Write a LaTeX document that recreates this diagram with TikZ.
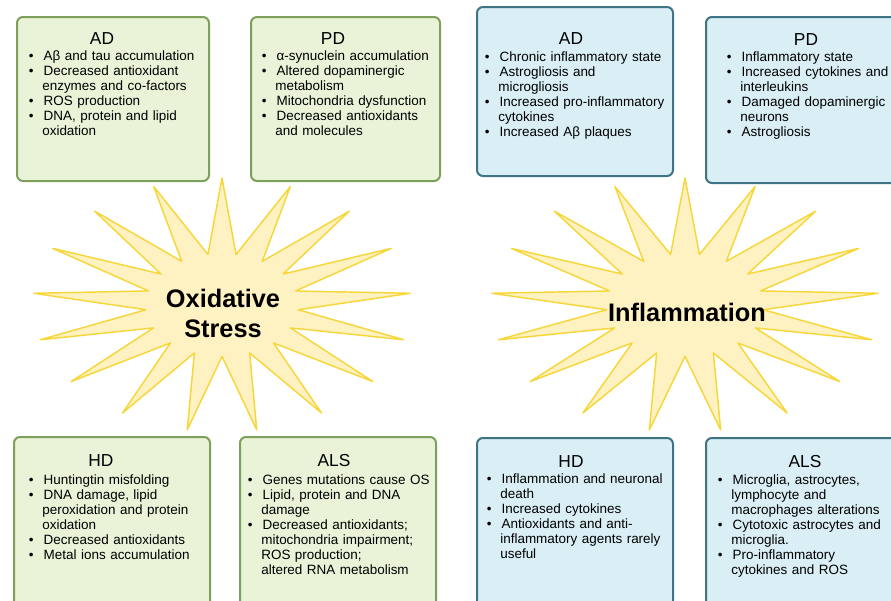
\documentclass[tikz,border=0pt]{standalone}
\usepackage{fontspec}
\setmainfont{Liberation Sans}
\usepackage{tikz}
\usepackage{xcolor}

\definecolor{osfill}{HTML}{E8F3D8}
\definecolor{osline}{HTML}{7FA05A}
\definecolor{inffill}{HTML}{D9EEF5}
\definecolor{infline}{HTML}{3F7485}
\definecolor{burstfill}{HTML}{FFF2C2}
\definecolor{burstline}{HTML}{F7D63A}

\newenvironment{pts}{\begin{list}{\textbullet}{%
  \setlength{\leftmargin}{10pt}\setlength{\labelsep}{7.5pt}%
  \setlength{\labelwidth}{2.5pt}\setlength{\itemsep}{0pt}%
  \setlength{\parsep}{0pt}\setlength{\topsep}{0pt}%
  \setlength{\partopsep}{0pt}\setlength{\itemindent}{0pt}}}%
  {\end{list}}

\tikzset{
  osbox/.style={draw=osline, fill=osfill, line width=1.5pt, rounded corners=4.5pt},
  infbox/.style={draw=infline, fill=inffill, line width=1.5pt, rounded corners=4.5pt},
  burst/.style={draw=burstline, fill=burstfill, line width=1.1pt, line join=round},
  boxtitle/.style={inner sep=0pt, font=\fontsize{13}{15}\selectfont},
  itemtext/.style={anchor=north west, inner sep=0pt, text width=145pt, align=left,
    font=\fontsize{10.1}{11.25}\selectfont},
  burstlabel/.style={inner sep=0pt, align=center, font=\fontsize{19}{22.5}\selectfont\bfseries}
}

\begin{document}
\begin{tikzpicture}[x=0.75pt,y=0.75pt,yscale=-1,xscale=1]
    \useasboundingbox (0,0) rectangle (891,600);
    \clip (0,0) rectangle (891,600);

    %Bursts
    \foreach \cx/\rx in {222/189,685/194}{
      \draw[burst, shift={(\cx,305)}] (270:{\rx} and 127)
        \foreach \k in {1,...,33}{ -- ({270+\k*180/17}:{\rx*(1-0.595*mod(\k,2))} and {127*(1-0.595*mod(\k,2))}) } -- cycle;
    }
    % Text Node
    \draw (223,313) node [burstlabel] (oxlabel) {Oxidative\\Stress};
    % Text Node
    \draw (687,312) node [burstlabel] (inflabel) {Inflammation};

    %Rounded Rect: oxidative stress boxes
    \draw[osbox] (17,17) rectangle (209,181);
    \draw[osbox] (251,17) rectangle (440,181);
    \draw[osbox] (14,437) rectangle (210,620);
    \draw[osbox] (240,437) rectangle (436,620);
    %Rounded Rect: inflammation boxes
    \draw[infbox] (477,7) rectangle (673,176);
    \draw[infbox] (706,17) rectangle (910,183);
    \draw[infbox] (477,438) rectangle (673,620);
    \draw[infbox] (706,438) rectangle (910,620);

    % Text Node
    \draw (102,39) node [boxtitle] (osadtitle) {AD};
    % Text Node
    \draw (28.7,45) node [itemtext] (osaditems) {\begin{pts}
      \item Aβ and tau accumulation
      \item Decreased antioxidant\newline enzymes and co-factors
      \item ROS production
      \item DNA, protein and lipid\newline oxidation
    \end{pts}};

    % Text Node
    \draw (333,39) node [boxtitle] (ospdtitle) {PD};
    % Text Node
    \draw (261.7,45) node [itemtext] (ospditems) {\begin{pts}
      \item α-synuclein accumulation
      \item Altered dopaminergic\newline metabolism
      \item Mitochondria dysfunction
      \item Decreased antioxidants\newline and molecules
    \end{pts}};

    % Text Node
    \draw (101,461) node [boxtitle] (oshdtitle) {HD};
    % Text Node
    \draw (28.7,469) node [itemtext] (oshditems) {\begin{pts}
      \item Huntingtin misfolding
      \item DNA damage, lipid\newline peroxidation and protein\newline oxidation
      \item Decreased antioxidants
      \item Metal ions accumulation
    \end{pts}};

    % Text Node
    \draw (334,461) node [boxtitle] (osalstitle) {ALS};
    % Text Node
    \draw (247.7,469) node [itemtext] (osalsitems) {\begin{pts}
      \item Genes mutations cause OS
      \item Lipid, protein and DNA\newline damage
      \item Decreased antioxidants;\newline mitochondria impairment;\newline ROS production;\newline altered RNA metabolism
    \end{pts}};

    % Text Node
    \draw (571,39) node [boxtitle] (infadtitle) {AD};
    % Text Node
    \draw (484.7,46) node [itemtext] (infaditems) {\begin{pts}
      \item Chronic inflammatory state
      \item Astrogliosis and\newline microgliosis
      \item Increased pro-inflammatory\newline cytokines
      \item Increased Aβ plaques
    \end{pts}};

    % Text Node
    \draw (806,40) node [boxtitle] (infpdtitle) {PD};
    % Text Node
    \draw (726.7,46) node [itemtext] (infpditems) {\begin{pts}
      \item Inflammatory state
      \item Increased cytokines and\newline interleukins
      \item Damaged dopaminergic\newline neurons
      \item Astrogliosis
    \end{pts}};

    % Text Node
    \draw (571,462) node [boxtitle] (infhdtitle) {HD};
    % Text Node
    \draw (486.7,468) node [itemtext] (infhditems) {\begin{pts}
      \item Inflammation and neuronal\newline death
      \item Increased cytokines
      \item Antioxidants and anti-\newline inflammatory agents rarely\newline useful
    \end{pts}};

    % Text Node
    \draw (805,462) node [boxtitle] (infalstitle) {ALS};
    % Text Node
    \draw (717.7,469) node [itemtext] (infalsitems) {\begin{pts}
      \item Microglia, astrocytes,\newline lymphocyte and\newline macrophages alterations
      \item Cytotoxic astrocytes and\newline microglia.
      \item Pro-inflammatory\newline cytokines and ROS
    \end{pts}};

\end{tikzpicture}
\end{document}
